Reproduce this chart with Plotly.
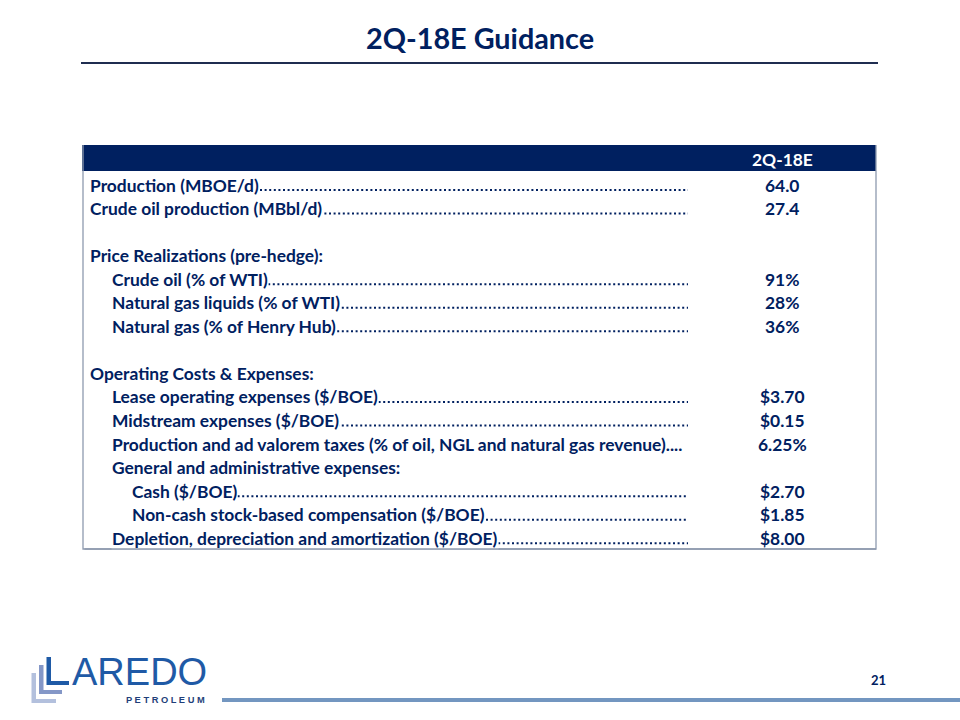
import plotly.graph_objects as go

# ---------------- data ----------------
title_text = "2Q-18E Guidance"
column_header = "2Q-18E"
row_labels = [
    "Production (MBOE/d)",
    "Crude oil production (MBbl/d)",
    "",
    "Price Realizations (pre-hedge):",
    "Crude oil (% of WTI)",
    "Natural gas liquids (% of WTI)",
    "Natural gas (% of Henry Hub)",
    "",
    "Operating Costs & Expenses:",
    "Lease operating expenses ($/BOE)",
    "Midstream expenses ($/BOE)",
    "Production and ad valorem taxes (% of oil, NGL and natural gas revenue)....",
    "General and administrative expenses:",
    "Cash ($/BOE)",
    "Non-cash stock-based compensation ($/BOE)",
    "Depletion, depreciation and amortization ($/BOE)",
]
row_levels = [0, 0, 0, 0, 1, 1, 1, 0, 0, 1, 1, 1, 1, 2, 2, 1]
row_values = ["64.0", "27.4", "", "", "91%", "28%", "36%", "", "",
              "$3.70", "$0.15", "6.25%", "", "$2.70", "$1.85", "$8.00"]
row_leaders = [True, True, False, False, True, True, True, False, False,
               True, True, False, False, True, True, True]
page_number = "21"

# ---------------- style ----------------
NAVY = "#002060"
FONT = "Lato"
W, H = 960, 720
BORDER = "#8E9AAF"

tbl_left, tbl_right = 83, 876
hdr_top, hdr_bot = 145, 171
tbl_bottom = 549
first_row_y = 185
row_step = 23.55
indent_x = [89, 111, 131]
leader_end = 688
value_x = 782
body_size = 17.4

fig = go.Figure()
fig.add_trace(go.Scatter(x=[0, W], y=[0, H], mode="markers",
                         marker=dict(opacity=0), hoverinfo="skip", showlegend=False))

shapes = []
annotations = []

# title + rule
annotations.append(dict(x=480, y=38, text=f"<b>{title_text}</b>", showarrow=False,
                        xanchor="center", yanchor="middle",
                        font=dict(family=FONT, size=28.8, color=NAVY)))
shapes.append(dict(type="line", x0=81, x1=878, y0=63, y1=63,
                   line=dict(color="#1F2D50", width=2)))

# table header and border
shapes.append(dict(type="rect", x0=tbl_left - 1, x1=tbl_right, y0=hdr_top, y1=hdr_bot,
                   fillcolor=NAVY, line=dict(width=0)))
shapes.append(dict(type="path",
                   path=f"M {tbl_left},{hdr_top} L {tbl_left},{tbl_bottom} L {tbl_right},{tbl_bottom} L {tbl_right},{hdr_top}",
                   line=dict(color=BORDER, width=1.3)))
annotations.append(dict(x=value_x, y=(hdr_top + hdr_bot) / 2 + 1, text=f"<b>{column_header}</b>",
                        showarrow=False, xanchor="center", yanchor="middle",
                        font=dict(family=FONT, size=body_size, color="white")))

# rows
for i, (lab, lev, val, lead) in enumerate(zip(row_labels, row_levels, row_values, row_leaders)):
    y = first_row_y + i * row_step
    x = indent_x[lev]
    if lead:
        shapes.append(dict(type="line", x0=x + 10, x1=leader_end, y0=y + 5, y1=y + 5,
                           line=dict(color=NAVY, width=2, dash="2px,2.6px")))
    if lab:
        annotations.append(dict(x=x, y=y, text=f"<b>{lab}</b>", showarrow=False,
                                xanchor="left", yanchor="middle", bgcolor="white",
                                borderpad=0,
                                font=dict(family=FONT, size=body_size, color=NAVY)))
    if val:
        annotations.append(dict(x=value_x, y=y, text=f"<b>{val}</b>", showarrow=False,
                                xanchor="center", yanchor="middle",
                                font=dict(family=FONT, size=body_size, color=NAVY)))

# bottom border redrawn on top of the label boxes
annotations.append(dict(x=tbl_right, y=tbl_bottom, ax=tbl_left, ay=tbl_bottom,
                        xref="x", yref="y", axref="x", ayref="y", text="",
                        showarrow=True, arrowhead=0, arrowwidth=1.3, arrowcolor=BORDER,
                        standoff=0, startstandoff=0))

# logo
L_colors = ["#B3C0DD", "#8497C7", "#1F5AA6"]
L_geo = [  # (x_left, y_top, y_bottom, x_right)
    (31.5, 673, 703, 56),
    (39, 665, 694, 62),
    (46.5, 657, 685, 69),
]
for c, (xl, yt, yb, xr) in zip(L_colors, L_geo):
    shapes.append(dict(type="path",
                       path=f"M {xl},{yt} L {xl+4.5},{yt} L {xl+4.5},{yb-4} L {xr},{yb-4} L {xr},{yb} L {xl},{yb} Z",
                       fillcolor=c, line=dict(width=0)))
annotations.append(dict(x=70, y=672, text="AREDO", showarrow=False, xanchor="left",
                        yanchor="middle",
                        font=dict(family="Liberation Sans", size=38, color="#1F5AA6")))
annotations.append(dict(x=124, y=699.5, text="<b>P E T R O L E U M</b>", showarrow=False,
                        xanchor="left", yanchor="middle",
                        font=dict(family="Liberation Sans", size=9.3, color="#1F3F7A")))

# bottom bar + page number
shapes.append(dict(type="line", x0=222, x1=960, y0=700, y1=700,
                   line=dict(color="#7396C0", width=4)))
annotations.append(dict(x=878, y=680, text=f"<b>{page_number}</b>", showarrow=False,
                        xanchor="center", yanchor="middle",
                        font=dict(family=FONT, size=13, color=NAVY)))

fig.update_layout(
    width=W, height=H, margin=dict(l=0, r=0, t=0, b=0),
    paper_bgcolor="white", plot_bgcolor="white",
    xaxis=dict(range=[0, W], visible=False, fixedrange=True),
    yaxis=dict(range=[H, 0], visible=False, fixedrange=True),
    shapes=shapes, annotations=annotations, showlegend=False,
)
fig.write_html("out.html", config={"displayModeBar": False},
               post_script="document.body.style.margin='0';document.body.style.overflow='hidden';")
